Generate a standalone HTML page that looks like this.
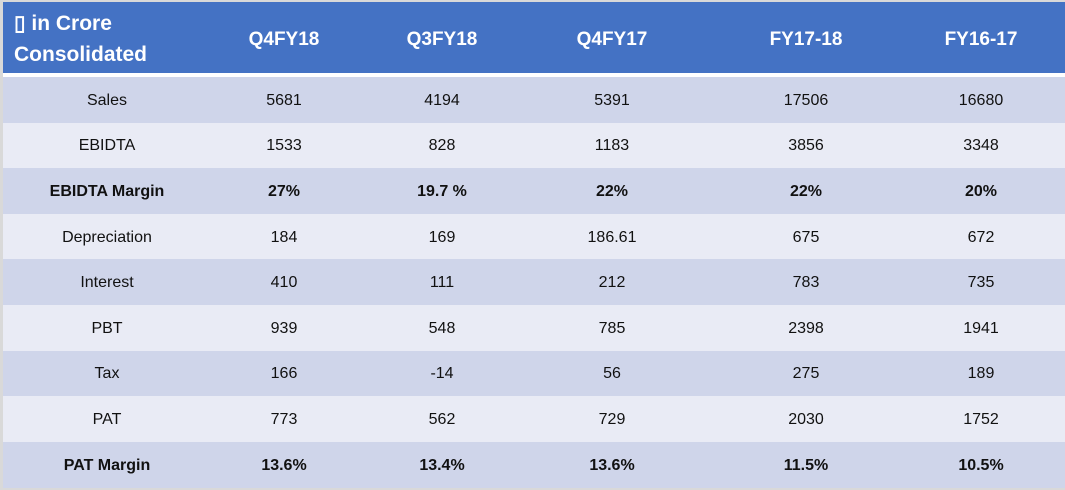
<!DOCTYPE html>
<html><head><meta charset="utf-8"><style>
body{margin:0;width:1065px;height:490px;background:#d9d9d9;position:relative;overflow:hidden;font-family:"Liberation Sans",sans-serif}
#hdr{position:absolute;left:3px;top:2px;width:1062px;height:71px;background:#4472C4}
#sep{position:absolute;left:3px;top:73px;width:1062px;height:4px;background:#fff}
.row{position:absolute;left:3px;width:1062px}
.c{position:absolute;width:200px;text-align:center;font-size:16px;color:#111}
.h{position:absolute;width:200px;text-align:center;font-size:19px;font-weight:bold;color:#fff;top:27px}
.b{font-weight:bold}
</style></head><body>
<div id="hdr">
<div style="position:absolute;left:11px;top:6px;color:#fff;font-weight:bold;font-size:21px;line-height:31px">▯ in Crore<br>Consolidated</div>
</div>
<div id="sep"></div>
<script>
const columns=["Q4FY18","Q3FY18","Q4FY17","FY17-18","FY16-17"];
const rowLabels=["Sales","EBIDTA","EBIDTA Margin","Depreciation","Interest","PBT","Tax","PAT","PAT Margin"];
const values=[["5681","4194","5391","17506","16680"],["1533","828","1183","3856","3348"],["27%","19.7 %","22%","22%","20%"],["184","169","186.61","675","672"],["410","111","212","783","735"],["939","548","785","2398","1941"],["166","-14","56","275","189"],["773","562","729","2030","1752"],["13.6%","13.4%","13.6%","11.5%","10.5%"]];
const boldRows=[2,8];
const centers=[284,442,612,806,981];
const hdr=document.getElementById('hdr');
columns.forEach((c,i)=>{const d=document.createElement('div');d.className='h';d.style.left=(centers[i]-3-100)+'px';d.textContent=c;


hdr.appendChild(d);});
const top0=77,rh=45.6;
rowLabels.forEach((r,ri)=>{const row=document.createElement('div');row.className='row';


row.style.top=(top0+ri*rh)+'px';row.style.height=(rh+0.5)+'px';row.style.background=ri%2?'#E9EBF5':'#CFD5EA';
const cells=[r].concat(values[ri]);const cx=[107].concat(centers);
cells.forEach((t,ci)=>{const d=document.createElement('div');d.className='c'+(boldRows.includes(ri)?' b':'');


d.style.left=(cx[ci]-3-100)+'px';d.style.top=(rh/2-8)+'px';d.textContent=t;row.appendChild(d);});
document.body.appendChild(row);});
</script>
</body></html>
